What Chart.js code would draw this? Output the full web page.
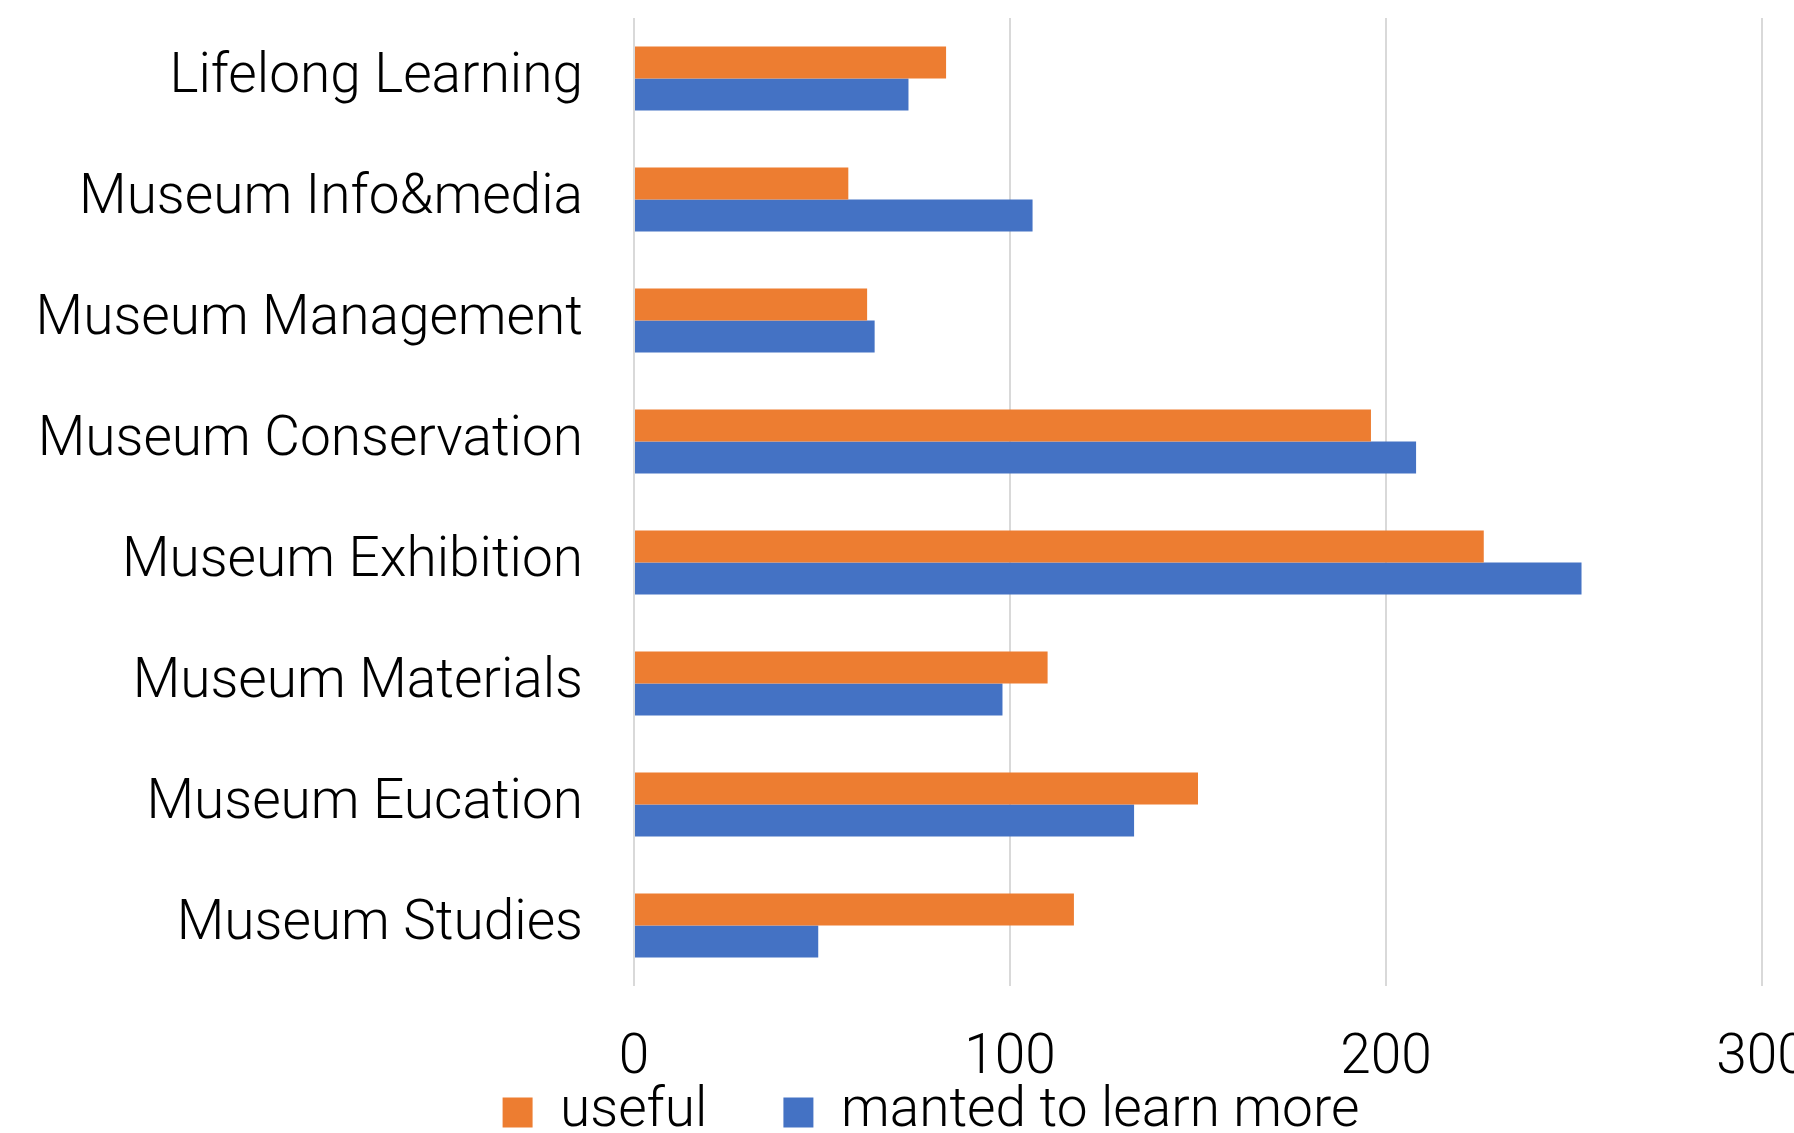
<!DOCTYPE html>
<html>
<head>
<meta charset="utf-8">
<script src="https://cdn.jsdelivr.net/npm/chart.js@4.4.1/dist/chart.umd.min.js"></script>
<style>
html,body{margin:0;padding:0;background:#fff;overflow:hidden;}
#wrap{position:absolute;left:0;top:0;width:1853px;height:1150px;}
</style>
</head>
<body>
<div id="wrap"><canvas id="c" width="1853" height="1150"></canvas></div>
<script>
const categories = ["Lifelong Learning","Museum Info&media","Museum Management","Museum Conservation","Museum Exhibition","Museum Materials","Museum Eucation","Museum Studies"];
const usefulValues = [83, 57, 62, 196, 226, 110, 150, 117];
const wantedValues = [73, 106, 64, 208, 252, 98, 133, 49];
const seriesNames = ["useful", "manted to learn more"];
const xTicks = [0, 100, 200, 300];

const FONT = "Roboto, 'Noto Sans', sans-serif";
const FS = 55;
const WT = 300;
const PAD_LEFT = 100;
const PLOT_LEFT = 634;

new Chart(document.getElementById('c'), {
  type: 'bar',
  data: {
    labels: categories,
    datasets: [
      {label: seriesNames[0], data: usefulValues, backgroundColor: '#ED7D31', borderWidth: 0},
      {label: seriesNames[1], data: wantedValues, backgroundColor: '#4472C4', borderWidth: 0}
    ]
  },
  options: {
    indexAxis: 'y',
    responsive: false,
    animation: false,
    layout: {padding: {top: 18, left: PAD_LEFT, right: 91, bottom: 0}},
    datasets: {bar: {categoryPercentage: 0.529, barPercentage: 1.0}},
    scales: {
      x: {
        min: xTicks[0], max: xTicks[xTicks.length-1],
        afterBuildTicks: (s) => { s.ticks = xTicks.map(v => ({value: v})); },
        grid: {color: '#D9D9D9', lineWidth: 2, drawTicks: false},
        border: {display: false},
        ticks: {color: '#000', font: {family: FONT, size: FS, weight: WT}, padding: 40.5},
        afterFit: (s) => { s.height = 23; s.paddingLeft = 0; s.paddingRight = 0; s._computeLabelArea = () => undefined; }
      },
      y: {
        grid: {display: false, drawTicks: false},
        border: {display: false},
        ticks: {color: '#000', font: {family: FONT, size: FS, weight: WT}, padding: 51, labelOffset: 0},
        afterFit: (s) => { s.width = PLOT_LEFT - PAD_LEFT; s.paddingTop = 0; s.paddingBottom = 0; s._computeLabelArea = () => undefined; }
      }
    },
    plugins: {
      legend: {
        position: 'bottom',
        labels: {color: '#000', font: {family: FONT, size: FS, weight: WT}, boxWidth: 30, boxHeight: 30, padding: 76}
      },
      tooltip: {enabled: false}
    }
  }
});
</script>
</body>
</html>
